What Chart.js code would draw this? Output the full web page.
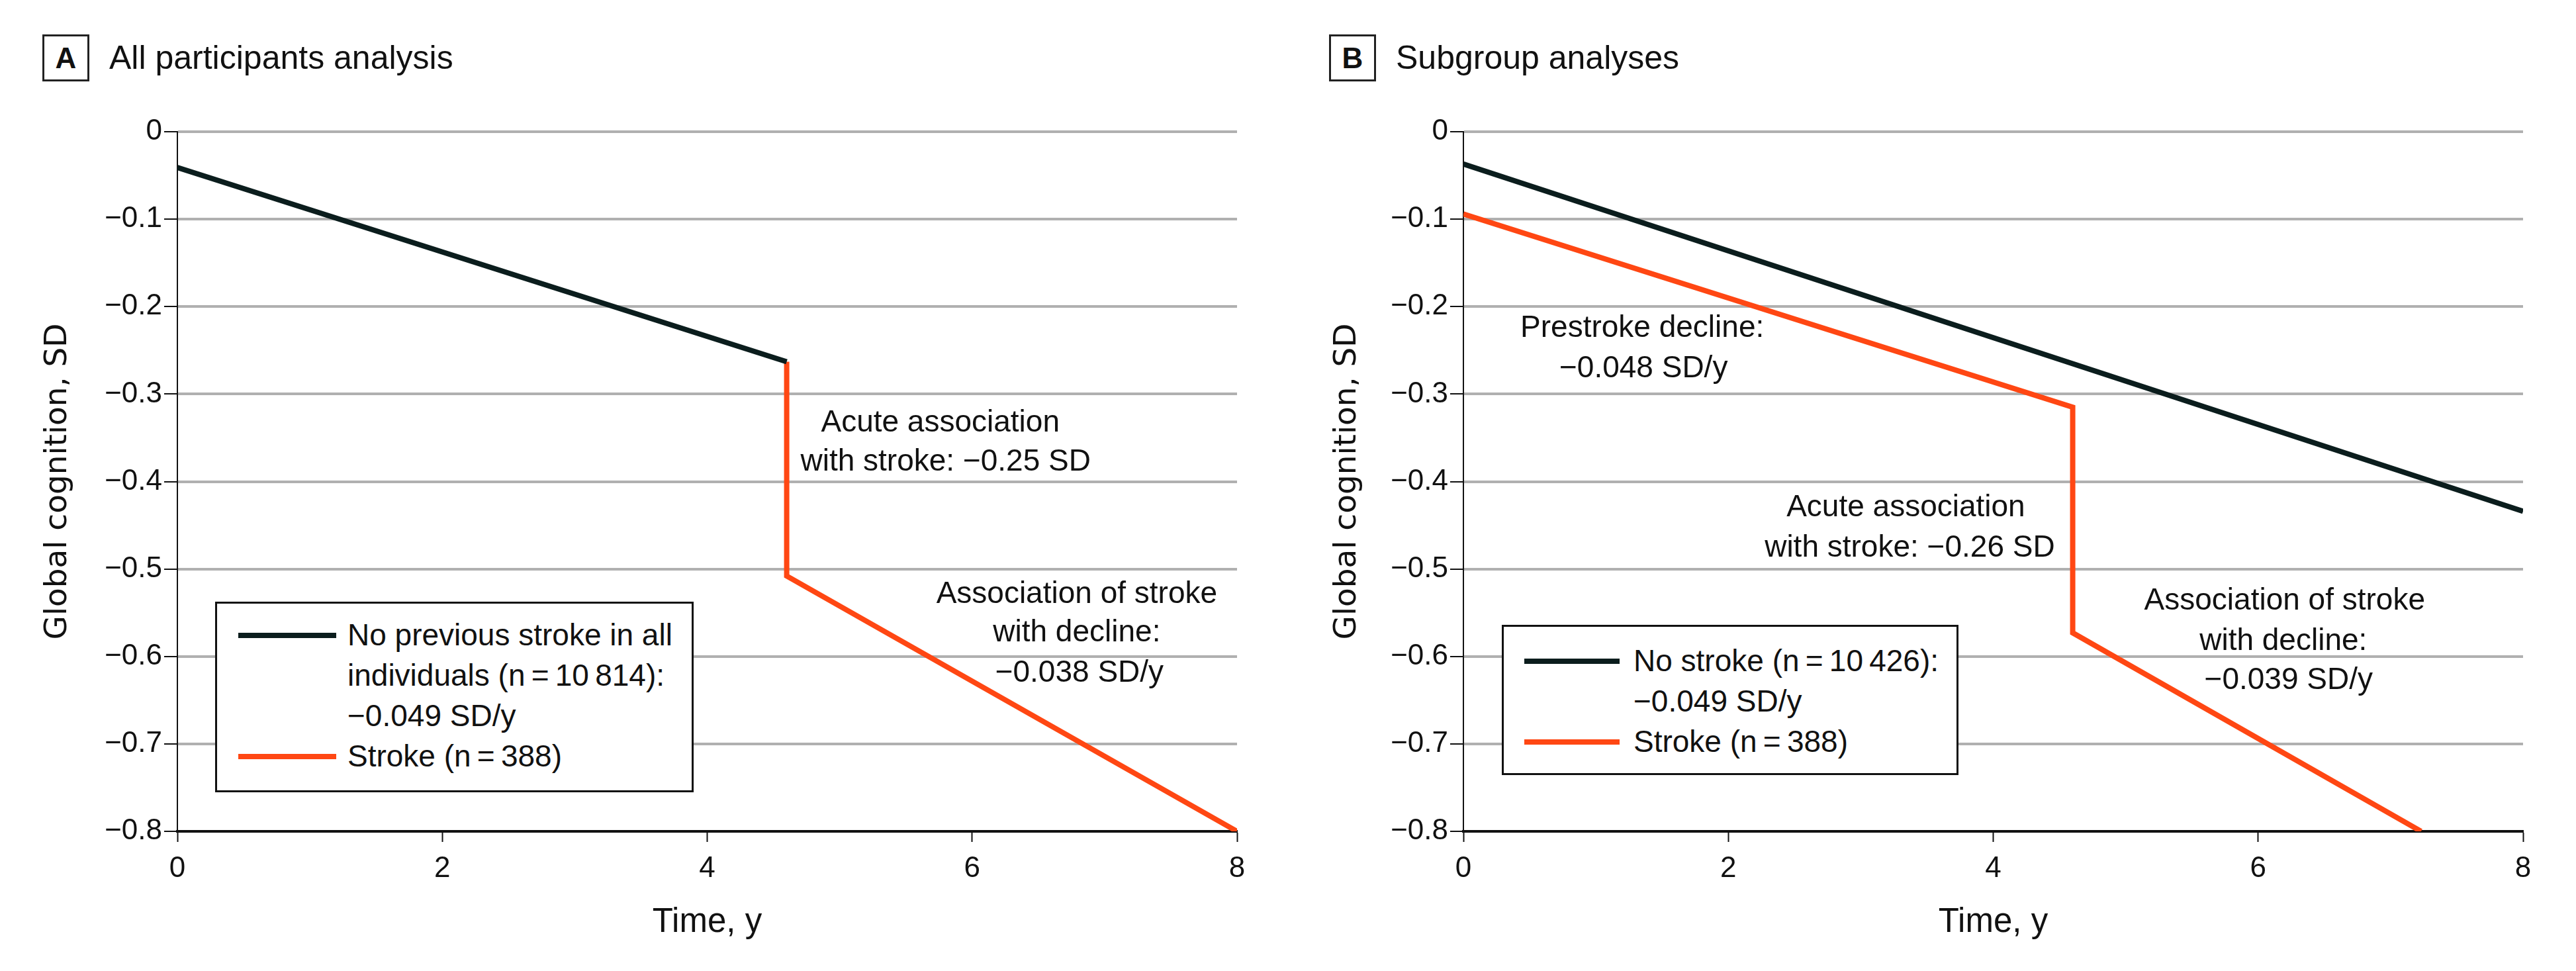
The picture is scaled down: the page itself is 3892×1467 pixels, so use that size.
<!DOCTYPE html>
<html>
<head>
<meta charset="utf-8">
<title>Global cognition after stroke</title>
<script src="https://cdn.jsdelivr.net/npm/chart.js@4.4.1/dist/chart.umd.min.js"></script>
<style>
  html, body { margin: 0; padding: 0; background: #fff; }
  body {
    width: 3892px; height: 1467px; position: relative; overflow: hidden;
    font-family: "Liberation Sans", Arial, sans-serif; color: #111;
  }
  canvas { position: absolute; top: 0; }
  .panel-letter {
    position: absolute; top: 52px; width: 71px; height: 71px; box-sizing: border-box;
    border: 3px solid #222; font-weight: bold; font-size: 44px; line-height: 65px; text-align: center;
  }
  .panel-title { position: absolute; top: 62px; font-size: 50px; line-height: 50px; white-space: nowrap; }
  .legend {
    position: absolute; box-sizing: border-box; border: 3px solid #111; background: #fff;
    font-size: 46px; line-height: 61px; white-space: nowrap;
  }
  .legend-row { display: flex; align-items: flex-start; }
  .swatch { height: 8px; margin-top: 27px; flex: none; }
</style>
</head>
<body>

<div class="panel-letter" style="left:64px">A</div>
<div class="panel-title" style="left:165px">All participants analysis</div>
<div class="panel-letter" style="left:2008px">B</div>
<div class="panel-title" style="left:2109px">Subgroup analyses</div>

<canvas id="chartA" width="1946" height="1467" style="left:0"></canvas>
<canvas id="chartB" width="1946" height="1467" style="left:1946px"></canvas>

<div id="legendA" class="legend" style="left:325px; top:909px; width:723px; height:288px; padding:17px 0 0 32px"></div>
<div id="legendB" class="legend" style="left:2269px; top:944px; width:690px; height:227px; padding:21px 0 0 31px"></div>

<script>
// ---- data ----
const xTickValues = [0, 2, 4, 6, 8];
const yTickValues = [0, -0.1, -0.2, -0.3, -0.4, -0.5, -0.6, -0.7, -0.8];
const yTickLabels = ["0", "\u22120.1", "\u22120.2", "\u22120.3", "\u22120.4", "\u22120.5", "\u22120.6", "\u22120.7", "\u22120.8"];

// A: all participants
const timeA_noStroke = [0, 4.6];
const cogA_noStroke = [-0.041, -0.263];
const timeA_stroke = [4.6, 4.6, 8];
const cogA_stroke = [-0.263, -0.508, -0.80];

// B: subgroup analyses
const timeB_noStroke = [0, 8];
const cogB_noStroke = [-0.037, -0.434];
const timeB_stroke = [0, 4.6, 4.6, 7.23];
const cogB_stroke = [-0.094, -0.315, -0.573, -0.80];

const labelsA = ["No previous stroke in all\nindividuals (n\u2009=\u200910\u2009814):\n\u22120.049 SD/y", "Stroke (n\u2009=\u2009388)"];
const labelsB = ["No stroke (n\u2009=\u200910\u2009426):\n\u22120.049 SD/y", "Stroke (n\u2009=\u2009388)"];

const colorNoStroke = "#0b1d1d";
const colorStroke = "#ff4713";
const fontFamily = '"Liberation Sans", Arial, sans-serif';

// text notes placed in data units
const notesA = [
    { text: "Acute association", x: 5.76, y: -0.333 },
    { text: "with stroke: \u22120.25 SD", x: 5.80, y: -0.378 },
    { text: "Association of stroke", x: 6.79, y: -0.529 },
    { text: "with decline:", x: 6.79, y: -0.573 },
    { text: "\u22120.038 SD/y", x: 6.81, y: -0.619 }
];
const notesB = [
    { text: "Prestroke decline:", x: 1.35, y: -0.225 },
    { text: "\u22120.048 SD/y", x: 1.36, y: -0.271 },
    { text: "Acute association", x: 3.34, y: -0.430 },
    { text: "with stroke: \u22120.26 SD", x: 3.37, y: -0.476 },
    { text: "Association of stroke", x: 6.20, y: -0.537 },
    { text: "with decline:", x: 6.19, y: -0.583 },
    { text: "\u22120.039 SD/y", x: 6.23, y: -0.628 }
];

function toPoints(xs, ys) {
    return xs.map((t, i) => ({ x: t, y: ys[i] }));
}

const notesPlugin = {
    id: "notes",
    afterDatasetsDraw(chart, args, opts) {
        const { ctx, scales: { x, y } } = chart;
        ctx.save();
        ctx.font = "46px " + fontFamily;
        ctx.fillStyle = "#111";
        ctx.textAlign = "center";
        ctx.textBaseline = "middle";
        (opts.items || []).forEach(n => {
            ctx.fillText(n.text, x.getPixelForValue(n.x), y.getPixelForValue(n.y));
        });
        ctx.restore();
    }
};

function makeChart(canvasId, datasets, notes, geo) {
    return new Chart(document.getElementById(canvasId), {
        type: "line",
        data: { datasets: datasets },
        plugins: [notesPlugin],
        options: {
            responsive: false,
            animation: false,
            layout: { padding: { left: 0, top: geo.top, right: geo.right, bottom: 0 } },
            plugins: {
                legend: { display: false },
                tooltip: { enabled: false },
                notes: { items: notes }
            },
            elements: { point: { radius: 0 }, line: { tension: 0, borderCapStyle: "butt", borderJoinStyle: "miter" } },
            scales: {
                x: {
                    type: "linear", min: 0, max: 8,
                    afterBuildTicks: s => { s.ticks = xTickValues.map(v => ({ value: v })); },
                    afterFit: s => { s.height = geo.bottom; },
                    grid: { drawOnChartArea: false, drawTicks: true, tickLength: 16, tickColor: "#111", tickWidth: 2 },
                    border: { color: "#111", width: 4 },
                    ticks: { color: "#111", font: { family: fontFamily, size: 44 }, padding: 14, maxRotation: 0, autoSkip: false },
                    title: {
                        display: true, text: "Time, y", color: "#111",
                        font: { family: fontFamily, size: 51, lineHeight: 1 },
                        padding: { top: 0, bottom: 48 }
                    }
                },
                y: {
                    type: "linear", min: -0.8, max: 0,
                    afterBuildTicks: s => { s.ticks = yTickValues.map(v => ({ value: v })); },
                    afterFit: s => { s.width = geo.left; },
                    grid: {
                        color: c => (c.tick && c.tick.value === -0.8) ? "rgba(0,0,0,0)" : "#b0b0b0",
                        lineWidth: 4, tickColor: "#111", tickWidth: 2, tickLength: 20
                    },
                    border: { color: "#111", width: 2 },
                    ticks: {
                        color: "#111", font: { family: fontFamily, size: 44 }, padding: 3, autoSkip: false,
                        callback: v => yTickLabels[yTickValues.indexOf(v)]
                    },
                    title: {
                        display: true, text: "Global cognition, SD", color: "#111",
                        font: { family: '"DejaVu Sans", sans-serif', size: 47, lineHeight: 1 },
                        padding: { top: geo.titleX - 23, bottom: 0 }
                    }
                }
            }
        }
    });
}

function lineSet(label, xs, ys, color) {
    return {
        label: label,
        data: toPoints(xs, ys),
        borderColor: color,
        backgroundColor: color,
        borderWidth: 8,
        fill: false
    };
}

// html legend built from the chart's datasets
function buildLegend(chart, elId, swatchWidth, gap) {
    const el = document.getElementById(elId);
    chart.data.datasets.forEach(ds => {
        const row = document.createElement("div");
        row.className = "legend-row";
        const sw = document.createElement("div");
        sw.className = "swatch";
        sw.style.width = swatchWidth + "px";
        sw.style.marginRight = gap + "px";
        sw.style.background = ds.borderColor;
        const txt = document.createElement("div");
        ds.label.split("\n").forEach((line, i) => {
            if (i > 0) txt.appendChild(document.createElement("br"));
            txt.appendChild(document.createTextNode(line));
        });
        row.appendChild(sw);
        row.appendChild(txt);
        el.appendChild(row);
    });
}

const chartA = makeChart("chartA", [
    lineSet(labelsA[0], timeA_noStroke, cogA_noStroke, colorNoStroke),
    lineSet(labelsA[1], timeA_stroke, cogA_stroke, colorStroke)
], notesA, { left: 268, right: 77, top: 199, bottom: 211, titleX: 87 });

const chartB = makeChart("chartB", [
    lineSet(labelsB[0], timeB_noStroke, cogB_noStroke, colorNoStroke),
    lineSet(labelsB[1], timeB_stroke, cogB_stroke, colorStroke)
], notesB, { left: 265, right: 80, top: 199, bottom: 211, titleX: 89 });

buildLegend(chartA, "legendA", 148, 17);
buildLegend(chartB, "legendB", 144, 21);
</script>
</body>
</html>
